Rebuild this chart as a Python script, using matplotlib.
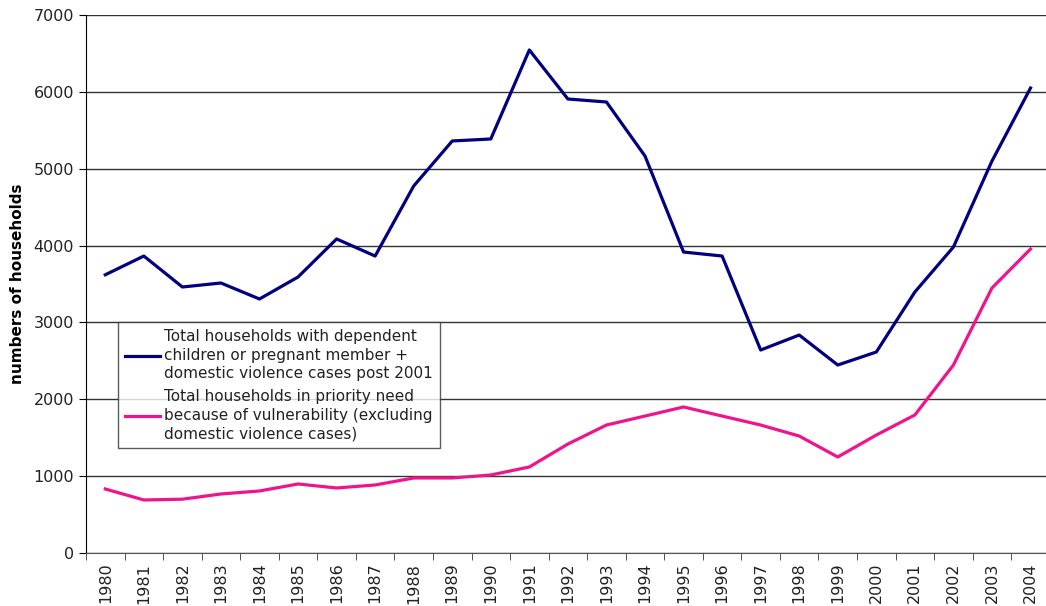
import matplotlib.pyplot as plt
import numpy as np

years = list(range(1980, 2005))
dependent_children = [3620, 3864, 3461, 3513, 3305, 3591, 4086, 3864, 4775, 5361,
                      5387, 6545, 5907, 5868, 5165, 3916, 3864, 2641, 2836, 2446,
                      2615, 3396, 3981, 5100, 6050]
vulnerability = [833, 690, 700, 768, 807, 898, 846, 885, 976, 976,
                 1015, 1119, 1418, 1665, 1782, 1900, 1782, 1665, 1522, 1249,
                 1535, 1796, 2446, 3448, 3955]
label_blue = "Total households with dependent\nchildren or pregnant member +\ndomestic violence cases post 2001"
label_pink = "Total households in priority need\nbecause of vulnerability (excluding\ndomestic violence cases)"

plt.rcParams['font.family'] = ['DejaVu Sans']
plt.rcParams['font.size'] = 11.5

fig = plt.figure(figsize=(10.46, 6.06), dpi=100)
ax = fig.add_axes([86 / 1046, 1 - 553 / 606, 963.8 / 1046, 538 / 606])

x = np.arange(len(years))
ax.plot(x, dependent_children, color='#000080', linewidth=2.3, label=label_blue, zorder=3)
ax.plot(x, vulnerability, color='#f0148c', linewidth=2.3, label=label_pink, zorder=3)

ax.set_xlim(-0.5, len(years) - 0.5)
ax.set_ylim(0, 7000)
ax.set_yticks(range(0, 7001, 1000))
ax.yaxis.grid(True, color='#333333', linewidth=1)
ax.set_axisbelow(True)

ax.set_xticks(x)
ax.set_xticklabels([str(y) for y in years], rotation=90)
ax.tick_params(axis='x', which='major', length=0, pad=7, labelsize=11.5, labelcolor='#222222')
ax.set_xticks(np.arange(-0.5, len(years), 1), minor=True)
ax.tick_params(axis='x', which='minor', length=5, direction='out', color='#333333')
ax.tick_params(axis='y', length=5, direction='out', labelsize=11.5, labelcolor='#222222')

for side in ['top', 'right']:
    ax.spines[side].set_visible(False)
ax.spines['left'].set_color('black')
ax.spines['bottom'].set_color('#555555')

ax.set_ylabel("numbers of households", fontweight='bold', fontsize=11, labelpad=6)

leg = ax.legend(loc='lower left', bbox_to_anchor=(0.033, 0.195), frameon=True,
                fancybox=False, edgecolor='#333333', handlelength=2.3,
                handletextpad=0.3, borderpad=0.45, labelspacing=0.5, fontsize=11,
                borderaxespad=0)
leg.get_frame().set_linewidth(1)
for t in leg.get_texts():
    t.set_linespacing(1.3)
    t.set_color('#222222')

fig.savefig("out.png", dpi=100)
